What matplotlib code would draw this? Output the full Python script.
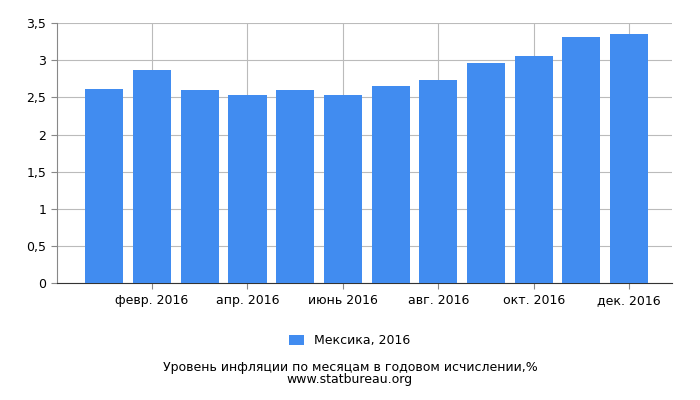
import matplotlib
matplotlib.use("Agg")
import matplotlib.pyplot as plt

months = ["янв. 2016", "февр. 2016", "март 2016", "апр. 2016", "май 2016", "июнь 2016",
          "июль 2016", "авг. 2016", "сент. 2016", "окт. 2016", "нояб. 2016", "дек. 2016"]
values = [2.61, 2.87, 2.60, 2.54, 2.60, 2.54, 2.65, 2.73, 2.97, 3.06, 3.31, 3.36]
yticks = [0, 0.5, 1, 1.5, 2, 2.5, 3, 3.5]
ylabels = ["0", "0,5", "1", "1,5", "2", "2,5", "3", "3,5"]

fig = plt.figure(figsize=(7, 4), dpi=100)
ax = fig.add_axes([0.081, 0.292, 0.879, 0.65])
x = list(range(len(values)))
ax.bar(x, values, width=0.8, color="#418cf0", label="Мексика, 2016", zorder=3)
ax.set_xlim(-1, 11.9)
ax.set_ylim(0, 3.5)
ax.set_yticks(yticks)
ax.set_yticklabels(ylabels, fontsize=9)
ax.set_xticks(x[1::2])
ax.set_xticklabels(months[1::2], fontsize=9)
ax.grid(True, color="#bbbbbb", linewidth=0.8, zorder=0)
for s in ["top", "right"]:
    ax.spines[s].set_visible(False)
ax.spines["left"].set_color("#888888")
ax.spines["bottom"].set_color("#333333")
ax.tick_params(length=4, color="#888888")
fig.legend(loc="center", bbox_to_anchor=(0.5, 0.148), frameon=False, fontsize=9,
           handlelength=1.2, handleheight=0.9)
fig.text(0.5, 0.072, "Уровень инфляции по месяцам в годовом исчислении,%", ha="center", fontsize=9)
fig.text(0.5, 0.042, "www.statbureau.org", ha="center", fontsize=9)
fig.savefig("out.png")
